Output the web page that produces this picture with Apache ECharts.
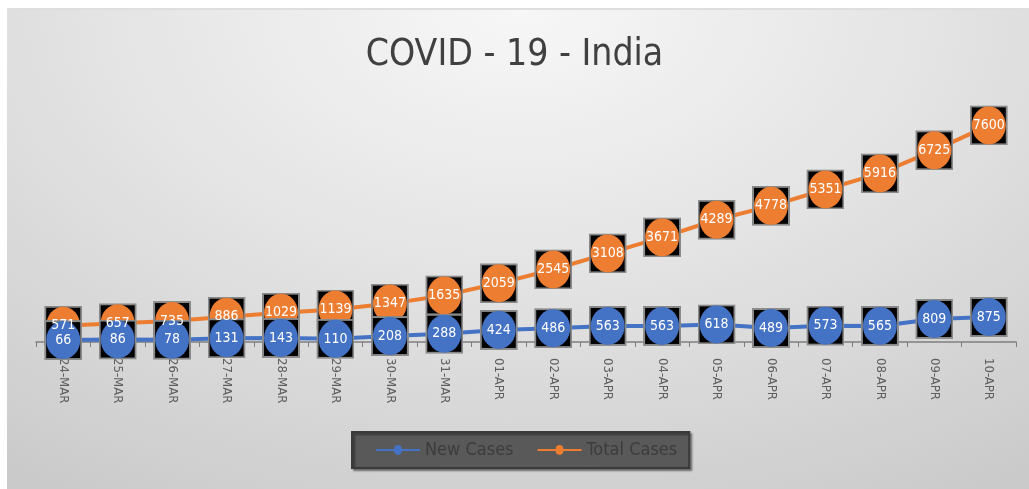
<!DOCTYPE html>
<html>
<head>
<meta charset="utf-8">
<script src="https://cdn.jsdelivr.net/npm/echarts@6/dist/echarts.min.js"></script>
<style>
html,body{margin:0;padding:0;background:#ffffff;}
#bg{position:absolute;left:7px;top:8px;width:1022px;height:481px;background:radial-gradient(ellipse 90% 120% at 50% 0%, #f7f7f7 0%, #e4e4e4 45%, #c9c9c9 100%);border-top:2px solid #dedede;box-sizing:border-box;}
#main{position:absolute;left:0;top:0;width:1029px;height:489px;}
</style>
</head>
<body>
<div id="bg"></div>
<div id="main"></div>
<script>
var categories = ['24-MAR','25-MAR','26-MAR','27-MAR','28-MAR','29-MAR','30-MAR','31-MAR','01-APR','02-APR','03-APR','04-APR','05-APR','06-APR','07-APR','08-APR','09-APR','10-APR'];
var newCases = [66, 86, 78, 131, 143, 110, 208, 288, 424, 486, 563, 563, 618, 489, 573, 565, 809, 875];
var totalCases = [571, 657, 735, 886, 1029, 1139, 1347, 1635, 2059, 2545, 3108, 3671, 4289, 4778, 5351, 5916, 6725, 7600];

var FONT = "'Liberation Sans Narrow','DejaVu Sans Condensed','Roboto Condensed',sans-serif";
function markerImg(color){
  var svg = '<svg xmlns="http://www.w3.org/2000/svg" width="38" height="40">' +
    '<rect x="1" y="1" width="36" height="38" fill="#000" stroke="#8a8a8a" stroke-width="2"/>' +
    '<ellipse cx="19" cy="20" rx="17" ry="19" fill="' + color + '"/></svg>';
  return 'image://data:image/svg+xml;charset=utf-8,' + encodeURIComponent(svg);
}
var LEGEND_ICON = 'path://M0,3.5h19a4,4 0 0 1 8,0h19v2.2h-19a4,4 0 0 1 -8,0h-19z';
var BLUE = '#4472C4', ORANGE = '#ED7D31';
var labelStyle = {show: true, position: 'inside', color: '#ffffff', fontFamily: FONT, fontSize: 14};

function labelSeries(name, data){
  return {
    name: name, type: 'line', data: data, z: 6,
    symbol: 'circle', symbolSize: 2,
    lineStyle: {width: 0, color: 'transparent'},
    itemStyle: {color: 'transparent'},
    label: labelStyle,
    silent: true, legendHoverLink: false
  };
}

var chart = echarts.init(document.getElementById('main'));
chart.setOption({
  animation: false,
  backgroundColor: 'transparent',
  title: {
    text: 'COVID - 19 - India',
    left: 'center', top: 32,
    textStyle: {fontFamily: FONT, fontSize: 37, fontWeight: 'normal', color: '#404040'}
  },
  legend: {
    data: [{name: 'New Cases', icon: LEGEND_ICON}, {name: 'Total Cases', icon: LEGEND_ICON}],
    left: 352, top: 432,
    padding: [9, 12, 9, 24],
    itemGap: 24,
    itemWidth: 44, itemHeight: 10,
    backgroundColor: '#595959',
    borderColor: '#3a3a3a', borderWidth: 2,
    shadowColor: 'rgba(0,0,0,0.4)', shadowBlur: 2, shadowOffsetX: 2, shadowOffsetY: 2,
    textStyle: {fontFamily: FONT, fontSize: 18, color: '#3c3c3c'}
  },
  grid: {left: 36, right: 13, top: 114, bottom: 147, containLabel: false},
  xAxis: {
    type: 'category',
    data: categories,
    boundaryGap: true,
    axisLine: {lineStyle: {color: '#7f7f7f', width: 1.5}},
    axisTick: {show: true, length: 5, lineStyle: {color: '#7f7f7f'}},
    axisLabel: {rotate: -90, fontFamily: FONT, fontSize: 13, color: '#5f5f5f', margin: 16}
  },
  yAxis: {
    type: 'value', min: 0, max: 8000, interval: 1000,
    show: false, splitLine: {show: false}
  },
  series: [
    {
      name: 'Total Cases', type: 'line', data: totalCases, z: 2,
      symbol: markerImg(ORANGE), symbolSize: [38, 40],
      lineStyle: {color: ORANGE, width: 4},
      itemStyle: {color: ORANGE},
      label: {show: false}
    },
    {
      name: 'New Cases', type: 'line', data: newCases, z: 3,
      symbol: markerImg(BLUE), symbolSize: [38, 40],
      lineStyle: {color: BLUE, width: 4},
      itemStyle: {color: BLUE},
      label: {show: false}
    },
    labelSeries('Total Cases label', totalCases),
    labelSeries('New Cases label', newCases)
  ]
});
</script>
</body>
</html>
